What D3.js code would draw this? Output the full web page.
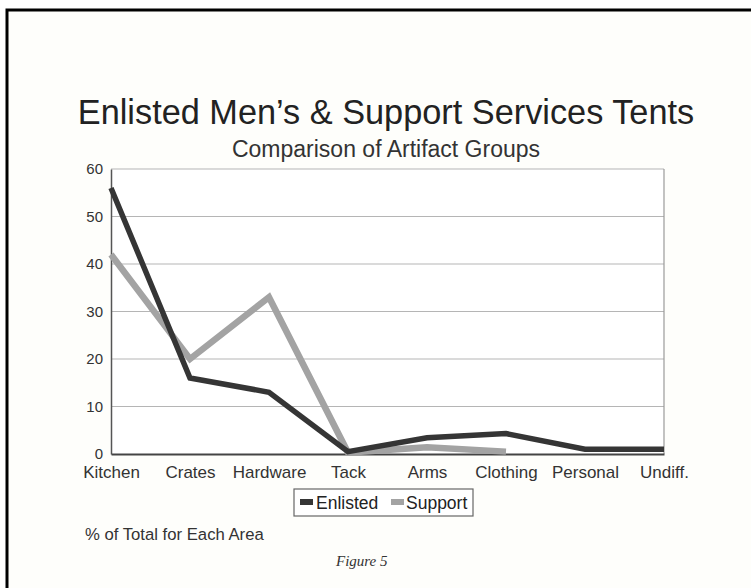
<!DOCTYPE html>
<html><head><meta charset="utf-8">
<script src="https://cdn.jsdelivr.net/npm/d3@7"></script>
<style>html,body{margin:0;padding:0;background:#fff;}</style>
</head><body>
<script>
const categories = ["Kitchen","Crates","Hardware","Tack","Arms","Clothing","Personal","Undiff."];
const enlisted = [56, 16, 13, 0.5, 3.4, 4.3, 1, 1];
const support = [42, 20, 33, 0.3, 1.4, 0.5, null, null];
const yTicks = [0,10,20,30,40,50,60];
const title = "Enlisted Men\u2019s & Support Services Tents";
const subtitle = "Comparison of Artifact Groups";
const seriesNames = ["Enlisted","Support"];
const footnote = "% of Total for Each Area";
const figLabel = "Figure 5";

const W = 751, H = 588;
const FONT = "'Liberation Sans', Arial, sans-serif";
const svg = d3.select("body").append("svg").attr("width", W).attr("height", H)
  .style("font-family", FONT);

// page
svg.append("rect").attr("x",7).attr("y",10).attr("width",W-7).attr("height",H-10).attr("fill","#fefefb");
svg.append("path").attr("d",`M7,${H} V10 H${W}`).attr("fill","none").attr("stroke","#000").attr("stroke-width",3);

const m = {l:111, r:664, t:169, b:454};
const x = d3.scalePoint().domain(categories).range([m.l, m.r]);
const y = d3.scaleLinear().domain([0,60]).range([m.b, m.t]);

// plot background
svg.append("rect").attr("x",m.l).attr("y",m.t).attr("width",m.r-m.l).attr("height",m.b-m.t).attr("fill","#fff");

// gridlines
svg.append("g").selectAll("line").data(yTicks.filter(d=>d>0)).join("line")
  .attr("x1",m.l).attr("x2",m.r).attr("y1",d=>y(d)).attr("y2",d=>y(d))
  .attr("stroke","#b5b5b5").attr("stroke-width",1);
svg.append("line").attr("x1",m.r).attr("x2",m.r).attr("y1",m.t).attr("y2",m.b).attr("stroke","#9a9a9a").attr("stroke-width",1.2);

// y axis
const ya = svg.append("g").attr("transform",`translate(${m.l},0)`)
  .call(d3.axisLeft(y).tickValues(yTicks).tickSize(0).tickPadding(8));
ya.select(".domain").attr("stroke","#555").attr("stroke-width",1.5);
ya.selectAll("text").attr("font-size",15).attr("fill","#333").attr("font-family",FONT);

// x axis
const xa = svg.append("g").attr("transform",`translate(0,${m.b})`)
  .call(d3.axisBottom(x).tickSize(0).tickPadding(12));
xa.select(".domain").attr("stroke","#444").attr("stroke-width",1.8);
xa.selectAll("text").attr("font-size",17).attr("fill","#333").attr("font-family",FONT);

// lines
const line = d3.line().defined(d=>d.v!=null).x(d=>x(d.c)).y(d=>y(d.v));
const sup = categories.map((c,i)=>({c, v:support[i]}));
const enl = categories.map((c,i)=>({c, v:enlisted[i]}));
svg.append("path").datum(sup).attr("d",line).attr("fill","none")
  .attr("stroke","#a3a3a3").attr("stroke-width",6.5).attr("stroke-linejoin","miter");
svg.append("path").datum(enl).attr("d",line).attr("fill","none")
  .attr("stroke","#353535").attr("stroke-width",5.5).attr("stroke-linejoin","miter");

// titles
svg.append("text").attr("x",386).attr("y",124).attr("text-anchor","middle")
  .attr("font-size",34.3).attr("fill","#222").text(title);
svg.append("text").attr("x",386).attr("y",157).attr("text-anchor","middle")
  .attr("font-size",23).attr("fill","#333").text(subtitle);

// legend
const lg = svg.append("g");
lg.append("rect").attr("x",294).attr("y",489).attr("width",179).attr("height",27)
  .attr("fill","#fff").attr("stroke","#666").attr("stroke-width",1.2);
const items = [{n:seriesNames[0], c:"#353535", sx:300, tx:316},{n:seriesNames[1], c:"#a3a3a3", sx:391, tx:406}];
items.forEach(it=>{
  lg.append("rect").attr("x",it.sx).attr("y",499).attr("width",13).attr("height",6).attr("fill",it.c);
  lg.append("text").attr("x",it.tx).attr("y",509).attr("font-size",17.5).attr("fill","#222").text(it.n);
});

svg.append("text").attr("x",85).attr("y",540).attr("font-size",16.7).attr("fill","#333").text(footnote);
svg.append("text").attr("x",336).attr("y",566).attr("font-size",15).attr("font-style","italic")
  .attr("font-family","'Liberation Serif', serif").attr("fill","#333").text(figLabel);
</script>
</body></html>
